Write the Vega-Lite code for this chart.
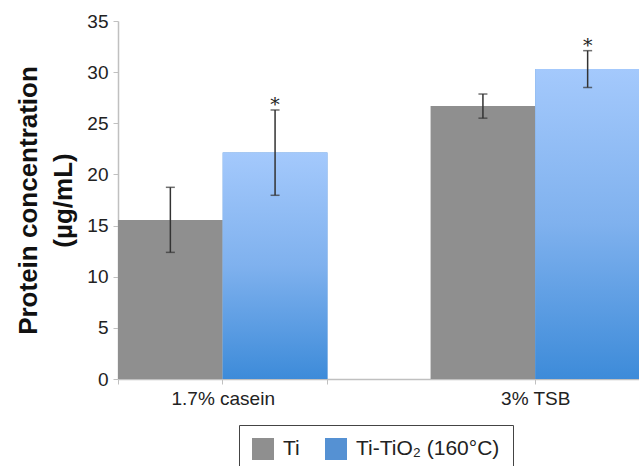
{
  "$schema": "https://vega.github.io/schema/vega-lite/v6.json",
  "autosize": "none",
  "width": 522,
  "height": 358,
  "padding": {"left": 118, "top": 21, "right": 0, "bottom": 87},
  "background": "white",
  "config": {
    "view": {"stroke": null},
    "font": "Liberation Sans",
    "axis": {"labelFont": "Liberation Sans", "titleFont": "Liberation Sans", "grid": false}
  },
  "data": {
    "values": [
      {"medium": "1.7% casein", "group": "Ti", "mean": 15.55, "lo": 12.38, "hi": 18.74, "sig": ""},
      {"medium": "1.7% casein", "group": "Ti-TiO₂ (160°C)", "mean": 22.15, "lo": 17.96, "hi": 26.3, "sig": "*"},
      {"medium": "3% TSB", "group": "Ti", "mean": 26.7, "lo": 25.5, "hi": 27.86, "sig": ""},
      {"medium": "3% TSB", "group": "Ti-TiO₂ (160°C)", "mean": 30.3, "lo": 28.5, "hi": 32.1, "sig": "*"}
    ]
  },
  "encoding": {
    "x": {
      "field": "medium", "type": "nominal", "sort": ["1.7% casein", "3% TSB"],
      "scale": {"paddingInner": 0.33, "paddingOuter": 0}
    },
    "xOffset": {
      "field": "group", "type": "nominal", "sort": ["Ti", "Ti-TiO₂ (160°C)"],
      "scale": {"paddingInner": 0, "paddingOuter": 0}
    }
  },
  "layer": [
    {
      "mark": {"type": "bar"},
      "encoding": {
        "x": {
          "field": "medium", "type": "nominal", "sort": ["1.7% casein", "3% TSB"],
          "scale": {"paddingInner": 0.33, "paddingOuter": 0},
          "axis": {
            "title": null, "labelAngle": 0, "labelFontSize": 19, "labelColor": "#222222",
            "domainColor": "#c0c0c0", "domainWidth": 1.5, "tickColor": "#c0c0c0", "tickSize": 5,
            "tickBand": "extent", "labelPadding": 5
          }
        },
        "y": {
          "field": "mean", "type": "quantitative",
          "scale": {"domain": [0, 35]},
          "axis": {
            "values": [0, 5, 10, 15, 20, 25, 30, 35],
            "title": ["Protein concentration", "(µg/mL)"],
            "titleFontSize": 26, "titleFontWeight": "bold", "titleColor": "#111111",
            "titleLineHeight": 35, "titlePadding": 10,
            "labelFontSize": 19, "labelColor": "#222222", "labelPadding": 5,
            "domainColor": "#c0c0c0", "domainWidth": 1.5, "tickColor": "#c0c0c0", "tickSize": 5
          }
        },
        "color": {
          "field": "group", "type": "nominal", "sort": ["Ti", "Ti-TiO₂ (160°C)"],
          "scale": {"domain": ["Ti", "Ti-TiO₂ (160°C)"], "range": ["#8f8f8f", "#5591d3"]},
          "legend": {
            "title": null, "orient": "none", "legendX": 121, "legendY": 404,
            "direction": "horizontal", "strokeColor": "#444444", "fillColor": "white",
            "padding": 13, "labelFontSize": 21, "labelColor": "#222222", "labelOffset": 9,
            "columnPadding": 25, "symbolType": "square", "symbolSize": 484,
            "symbolStrokeWidth": 0, "symbolOpacity": 1
          }
        }
      }
    },
    {
      "transform": [{"filter": "datum.sig === '*'"}],
      "mark": {
        "type": "bar",
        "color": {
          "gradient": "linear", "x1": 0, "y1": 0, "x2": 0, "y2": 1,
          "stops": [
            {"offset": 0, "color": "#a4c9fc"},
            {"offset": 0.5, "color": "#7fb1ee"},
            {"offset": 1, "color": "#3d8bd9"}
          ]
        }
      },
      "encoding": {
        "x": {"field": "medium", "type": "nominal", "sort": ["1.7% casein", "3% TSB"], "axis": null},
        "y": {"field": "mean", "type": "quantitative"}
      }
    },
    {
      "mark": {"type": "rule", "color": "#333333", "strokeWidth": 1.5},
      "encoding": {
        "x": {
          "field": "medium", "type": "nominal", "sort": ["1.7% casein", "3% TSB"],
          "axis": {"orient": "bottom", "title": null, "labels": false, "domain": false,
                   "tickColor": "#c0c0c0", "tickSize": 5, "tickBand": "center"}
        },
        "y": {"field": "lo", "type": "quantitative"},
        "y2": {"field": "hi"}
      }
    },
    {
      "mark": {"type": "tick", "color": "#333333", "thickness": 1.5, "size": 9},
      "encoding": {
        "x": {"field": "medium", "type": "nominal", "sort": ["1.7% casein", "3% TSB"], "axis": null},
        "y": {"field": "lo", "type": "quantitative"}
      }
    },
    {
      "mark": {"type": "tick", "color": "#333333", "thickness": 1.5, "size": 9},
      "encoding": {
        "x": {"field": "medium", "type": "nominal", "sort": ["1.7% casein", "3% TSB"], "axis": null},
        "y": {"field": "hi", "type": "quantitative"}
      }
    },
    {
      "mark": {"type": "text", "fontSize": 19, "color": "#222222", "baseline": "alphabetic", "font": "DejaVu Serif", "dy": 1},
      "encoding": {
        "x": {"field": "medium", "type": "nominal", "sort": ["1.7% casein", "3% TSB"], "axis": null},
        "y": {"field": "hi", "type": "quantitative"},
        "text": {"field": "sig"}
      }
    }
  ],
  "resolve": {"axis": {"x": "independent"}}
}
